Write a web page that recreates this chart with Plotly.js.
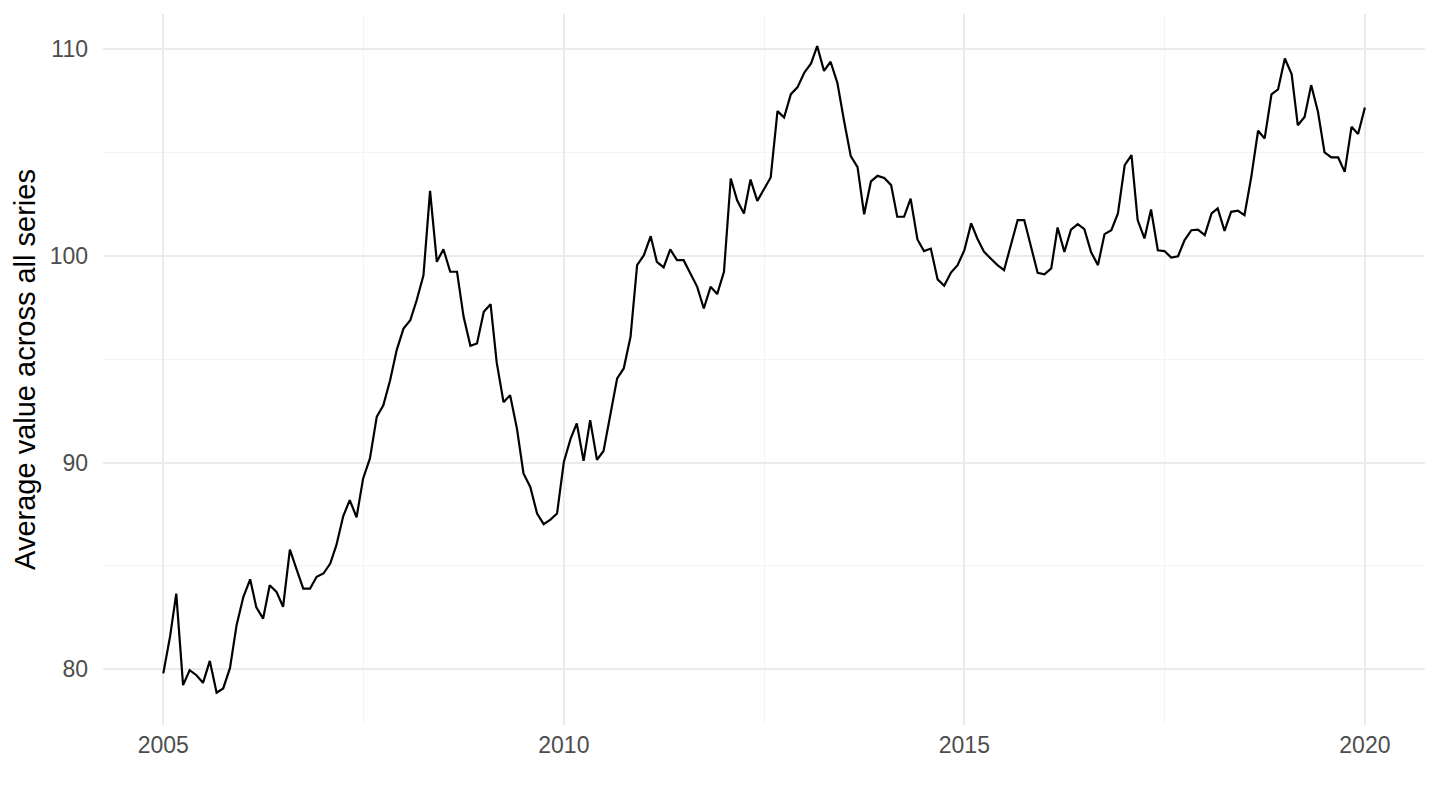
<!DOCTYPE html>
<html>
<head>
<meta charset="utf-8">
<script src="https://cdn.plot.ly/plotly-3.0.1.min.js"></script>
<style>html,body{margin:0;padding:0;background:#fff;}#chart{width:1440px;height:810px;}</style>
</head>
<body>
<div id="chart"></div>
<script>
// Monthly series, Jan 2005 .. Jan 2020
const startYear = 2005;
const values = [
  79.8, 81.6, 83.66, 79.23, 79.95, 79.71, 79.34, 80.4, 78.86, 79.07, 80.06, 82.13,
  83.5, 84.35, 82.99, 82.45, 84.06, 83.74, 83.02, 85.79, 84.82, 83.9, 83.9, 84.47,
  84.63, 85.11, 86.0, 87.4, 88.18, 87.35, 89.23, 90.2, 92.21, 92.77, 93.98, 95.44,
  96.48, 96.89, 97.85, 99.06, 103.14, 99.71, 100.32, 99.23, 99.23, 97.05, 95.65, 95.76,
  97.29, 97.66, 94.83, 92.92, 93.26, 91.65, 89.47, 88.82, 87.53, 87.02, 87.24, 87.53,
  90.03, 91.16, 91.89, 90.08, 92.05, 90.13, 90.56, 92.29, 94.07, 94.55, 96.08, 99.55,
  100.03, 100.95, 99.71, 99.44, 100.31, 99.79, 99.79, 99.15, 98.5, 97.45, 98.5, 98.15,
  99.23, 103.74, 102.69, 102.05, 103.69, 102.66, 103.21, 103.79, 107.0, 106.69, 107.82, 108.15,
  108.86, 109.31, 110.15, 108.95, 109.39, 108.37, 106.56, 104.82, 104.29, 102.01, 103.6, 103.87,
  103.77, 103.42, 101.89, 101.89, 102.77, 100.79, 100.23, 100.35, 98.86, 98.55, 99.19, 99.55,
  100.27, 101.57, 100.84, 100.19, 99.87, 99.55, 99.31, 100.55, 101.73, 101.73, 100.43, 99.18,
  99.1, 99.39, 101.37, 100.19, 101.27, 101.53, 101.29, 100.17, 99.55, 101.05, 101.24, 102.05,
  104.39, 104.87, 101.73, 100.84, 102.24, 100.27, 100.23, 99.92, 99.98, 100.76, 101.24, 101.27,
  101.0, 102.05, 102.29, 101.21, 102.13, 102.18, 101.97, 103.82, 106.05, 105.68, 107.81, 108.05,
  109.55, 108.79, 106.32, 106.72, 108.26, 106.97, 105.0, 104.76, 104.76, 104.06, 106.24, 105.89,
  107.18
];
const xTickVals = ['2005-01-01', '2010-01-01', '2015-01-01', '2020-01-01'];
const xTickText = ['2005', '2010', '2015', '2020'];
const yTickVals = [80, 90, 100, 110];
const yTitle = 'Average value across all series';

const dates = values.map((v, i) => {
  const y = startYear + Math.floor(i / 12);
  const m = (i % 12) + 1;
  return y + '-' + String(m).padStart(2, '0') + '-01';
});

const trace = {
  x: dates, y: values, type: 'scatter', mode: 'lines',
  line: {color: '#000000', width: 2.2},
  hoverinfo: 'x+y'
};

const gridMajor = '#ebebeb';
const gridMinor = '#f4f4f4';

const layout = {
  width: 1440, height: 810,
  margin: {l: 103, r: 15, t: 14, b: 85},
  paper_bgcolor: '#ffffff', plot_bgcolor: '#ffffff',
  showlegend: false,
  font: {family: 'Liberation Sans, Arial, sans-serif', size: 23, color: '#4d4d4d'},
  xaxis: {
    type: 'date',
    range: ['2004-04-01', '2020-10-01'],
    tickvals: xTickVals, ticktext: xTickText,
    showgrid: true, gridcolor: gridMajor, gridwidth: 2,
    zeroline: false, showline: false, ticks: '',
    tickfont: {size: 23, color: '#4d4d4d'},
    ticklabelstandoff: 4,
    minor: {tickvals: ['2007-07-02', '2012-07-02', '2017-07-02'], showgrid: true, gridcolor: gridMinor, gridwidth: 1, ticks: ''}
  },
  yaxis: {
    range: [77.3, 111.7],
    tickvals: yTickVals,
    showgrid: true, gridcolor: gridMajor, gridwidth: 2,
    zeroline: false, showline: false, ticks: '',
    tickfont: {size: 23, color: '#4d4d4d'},
    ticklabelstandoff: 14,
    minor: {tickvals: [85, 95, 105], showgrid: true, gridcolor: gridMinor, gridwidth: 1, ticks: ''},
    title: {text: yTitle, font: {size: 29, color: '#000000'}, standoff: 5}
  }
};

Plotly.newPlot('chart', [trace], layout, {displayModeBar: false, staticPlot: true});
</script>
</body>
</html>
